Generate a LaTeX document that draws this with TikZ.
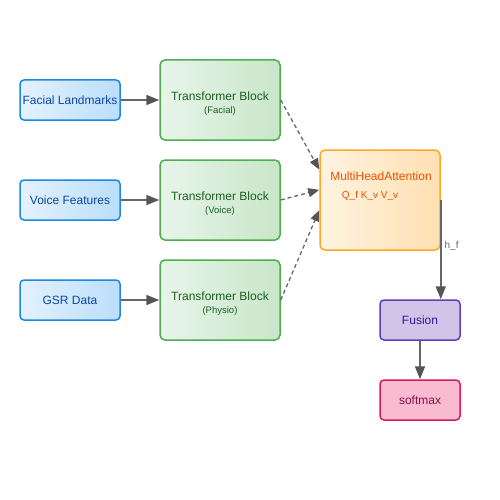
\documentclass[tikz,border=0pt]{standalone}
\usepackage{fontspec}
\setmainfont{Liberation Sans}
\usetikzlibrary{arrows.meta,calc}
\definecolor{bluefillA}{HTML}{E3F2FD}
\definecolor{bluefillB}{HTML}{BBDEFB}
\definecolor{bluedraw}{HTML}{1E88E5}
\definecolor{bluetext}{HTML}{0D47A1}
\definecolor{greenfillA}{HTML}{E8F5E9}
\definecolor{greenfillB}{HTML}{C8E6C9}
\definecolor{greendraw}{HTML}{4CAF50}
\definecolor{greentext}{HTML}{1B5E20}
\definecolor{orfillA}{HTML}{FFF3E0}
\definecolor{orfillB}{HTML}{FFE0B2}
\definecolor{ordraw}{HTML}{FFA726}
\definecolor{ortext}{HTML}{E65100}
\definecolor{purfill}{HTML}{D1C4E9}
\definecolor{purdraw}{HTML}{673AB7}
\definecolor{purtext}{HTML}{311B92}
\definecolor{pinkfill}{HTML}{F8BBD0}
\definecolor{pinkdraw}{HTML}{D81B60}
\definecolor{pinktext}{HTML}{880E4F}
\definecolor{arrowgray}{HTML}{555555}
\definecolor{lblgray}{HTML}{666666}
\tikzset{
  inbox/.style={draw=bluedraw, line width=1.5pt, rounded corners=4pt, left color=bluefillA, right color=bluefillB,
    minimum width=100pt, minimum height=40pt, inner sep=0pt, text=bluetext, font=\fontsize{12}{14}\selectfont},
  tbbox/.style={draw=greendraw, line width=1.5pt, rounded corners=5pt, left color=greenfillA, right color=greenfillB,
    minimum width=120pt, minimum height=80pt, inner sep=0pt},
  mhabox/.style={draw=ordraw, line width=1.5pt, rounded corners=5pt, left color=orfillA, right color=orfillB,
    minimum width=120pt, minimum height=100pt, inner sep=0pt},
  fusbox/.style={draw=purdraw, line width=1.5pt, rounded corners=4pt, fill=purfill,
    minimum width=80pt, minimum height=40pt, inner sep=0pt, text=purtext, font=\fontsize{12}{14}\selectfont},
  smbox/.style={draw=pinkdraw, line width=1.5pt, rounded corners=4pt, fill=pinkfill,
    minimum width=80pt, minimum height=40pt, inner sep=0pt, text=pinktext, font=\fontsize{12}{14}\selectfont},
  tbtitle/.style={text=greentext, font=\fontsize{12}{14}\selectfont, inner sep=0pt},
  tbsub/.style={text=greentext, font=\fontsize{9.5}{11}\selectfont, inner sep=0pt},
  solidarrow/.style={draw=lblgray, line width=1.8pt, -{Triangle[length=13pt,width=10pt,color=arrowgray]}},
  dasharrow/.style={draw=lblgray, line width=1.3pt, dash pattern=on 4pt off 3pt, -{Triangle[length=11pt,width=9pt,color=arrowgray]}},
  lbl/.style={text=lblgray, font=\fontsize{10}{12}\selectfont, inner sep=0pt}
}
\begin{document}
\begin{tikzpicture}[x=1pt,y=-1pt]
\useasboundingbox (0,0) rectangle (500,500);
\fill[white] (0,0) rectangle (500,500);
% inputs
\node[inbox] (fl) at (70,100) {Facial Landmarks};
\node[inbox] (vf) at (70,200) {Voice Features};
\node[inbox] (gsr) at (70,300) {GSR Data};
% transformer blocks
\node[tbbox] (tbf) at (220,100) {};
\node[tbtitle] (tbft) at (220,96) {Transformer Block};
\node[tbsub] (tbfs) at (220,111) {(Facial)};
\node[tbbox] (tbv) at (220,200) {};
\node[tbtitle] (tbvt) at (220,196) {Transformer Block};
\node[tbsub] (tbvs) at (220,211) {(Voice)};
\node[tbbox] (tbp) at (220,300) {};
\node[tbtitle] (tbpt) at (220,296) {Transformer Block};
\node[tbsub] (tbps) at (220,311) {(Physio)};
% MHA
\node[mhabox] (mha) at (380,200) {};
\node[text=ortext, font=\fontsize{12}{14}\selectfont, inner sep=0pt] (mhat) at (381,176) {MultiHeadAttention};
\node[text=ortext, font=\fontsize{10}{12}\selectfont, inner sep=0pt] (mhas) at (370,196) {Q\_f K\_v V\_v};
% fusion, softmax
\node[fusbox] (fus) at (420,320) {Fusion};
\node[smbox] (sm) at (420,400) {softmax};
% coordinates on MHA west side
\coordinate (mhaA) at ($(mha.north west)!0.2!(mha.south west)$);
\coordinate (mhaB) at ($(mha.north west)!0.4!(mha.south west)$);
\coordinate (mhaC) at ($(mha.north west)!0.6!(mha.south west)$);
% connectors
\draw[solidarrow] (fl.east) -- (tbf.west);
\draw[solidarrow] (vf.east) -- (tbv.west);
\draw[solidarrow] (gsr.east) -- (tbp.west);
\draw[dasharrow] (tbf.east) -- (mhaA);
\draw[dasharrow] (tbv.east) -- (mhaB);
\draw[dasharrow] (tbp.east) -- (mhaC);
\draw[solidarrow] (mha.east) -- node[lbl, right=3pt, pos=0.46] (hf) {h\_f} (mha.east |- fus.north);
\draw[solidarrow] (fus.south) -- (sm.north);
\end{tikzpicture}
\end{document}
